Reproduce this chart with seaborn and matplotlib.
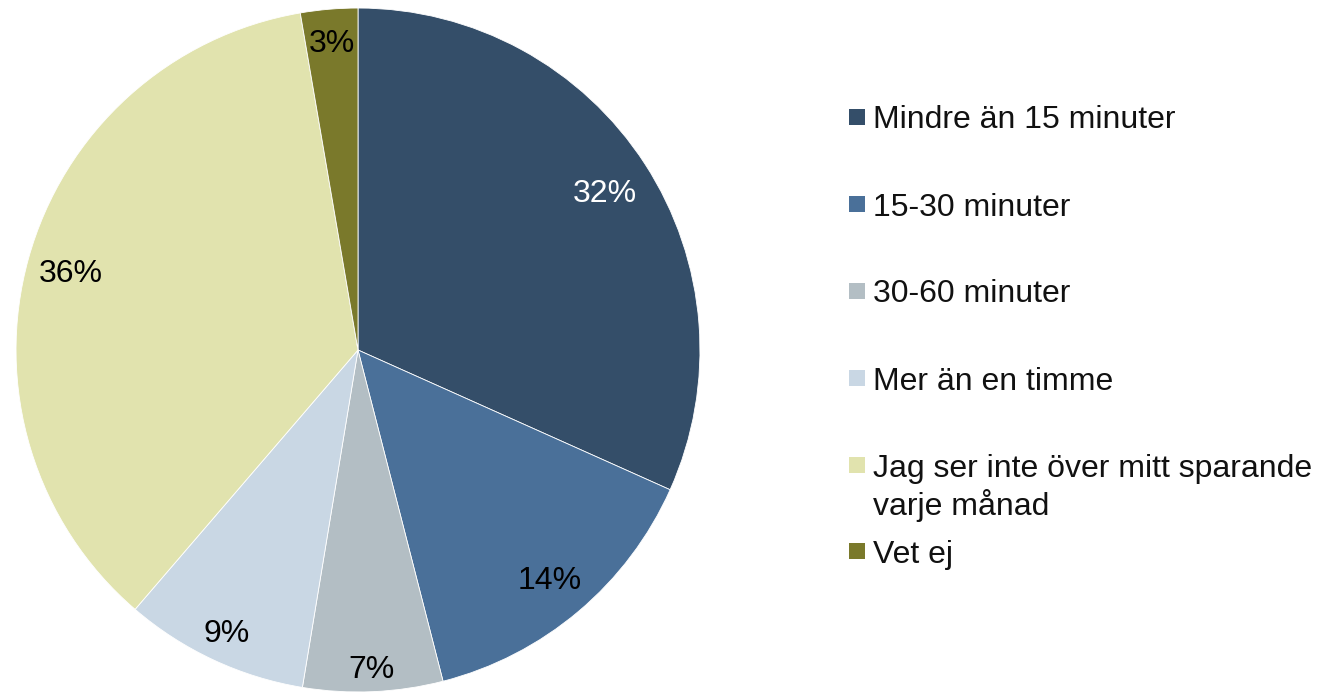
import matplotlib
matplotlib.use("Agg")
import matplotlib.pyplot as plt
from matplotlib.patches import Rectangle
import numpy as np
import seaborn as sns

# ── data ────────────────────────────────────────────────
categories = [
    "Mindre än 15 minuter",
    "15-30 minuter",
    "30-60 minuter",
    "Mer än en timme",
    "Jag ser inte över mitt sparande\nvarje månad",
    "Vet ej",
]
shares = [31.7, 14.3, 6.6, 8.7, 36.0, 2.7]
colors = ["#344e69", "#4a7099", "#b3bec4", "#c9d7e4", "#e1e3ae", "#7a792b"]
label_colors = ["white", "black", "black", "black", "black", "black"]

# ── style ───────────────────────────────────────────────
sns.set_theme(style="white")
plt.rcParams["font.family"] = ["Liberation Sans", "DejaVu Sans"]

W, H = 1318, 692
fig = plt.figure(figsize=(W / 100, H / 100), dpi=100)

# pie axes: centre (358, 350) px, radius 343 px
cx, cy, r = 358, 350, 343
ax = fig.add_axes([(cx - r) / W, (H - cy - r) / H, 2 * r / W, 2 * r / H])

wedges, texts, autotexts = ax.pie(
    shares,
    colors=colors,
    startangle=90,
    counterclock=False,
    autopct=lambda p: f"{p:.0f}%",
    wedgeprops={"edgecolor": "white", "linewidth": 0.6},
    textprops={"fontsize": 23},
)

# percentage labels sit at slightly different radii, like the original
label_dist = [0.86, 0.87, 0.925, 0.905, 0.87, 0.907]
for w, t, c, d in zip(wedges, autotexts, label_colors, label_dist):
    mid = np.deg2rad((w.theta1 + w.theta2) / 2)
    t.set_position((d * np.cos(mid), d * np.sin(mid)))
    t.set_verticalalignment("center_baseline")
    t.set_color(c)

ax.set_xlim(-1.003, 1.003)
ax.set_ylim(-1.003, 1.003)
ax.set_aspect("equal")
ax.axis("off")

# ── legend (drawn by hand so the handle sits on the first line) ──
legend_y = [117, 204, 291, 378, 465, 551]
line_gap = 37
for lab, col, y in zip(categories, colors, legend_y):
    fig.patches.append(Rectangle((849 / W, (H - y - 8) / H), 16 / W, 16 / H,
                                 transform=fig.transFigure, facecolor=col,
                                 edgecolor="none"))
    for j, line in enumerate(lab.split("\n")):
        fig.text(873 / W, (H - y - j * line_gap) / H, line, fontsize=23,
                 color="#111111", ha="left", va="center_baseline")

fig.savefig("out.png", dpi=100)
